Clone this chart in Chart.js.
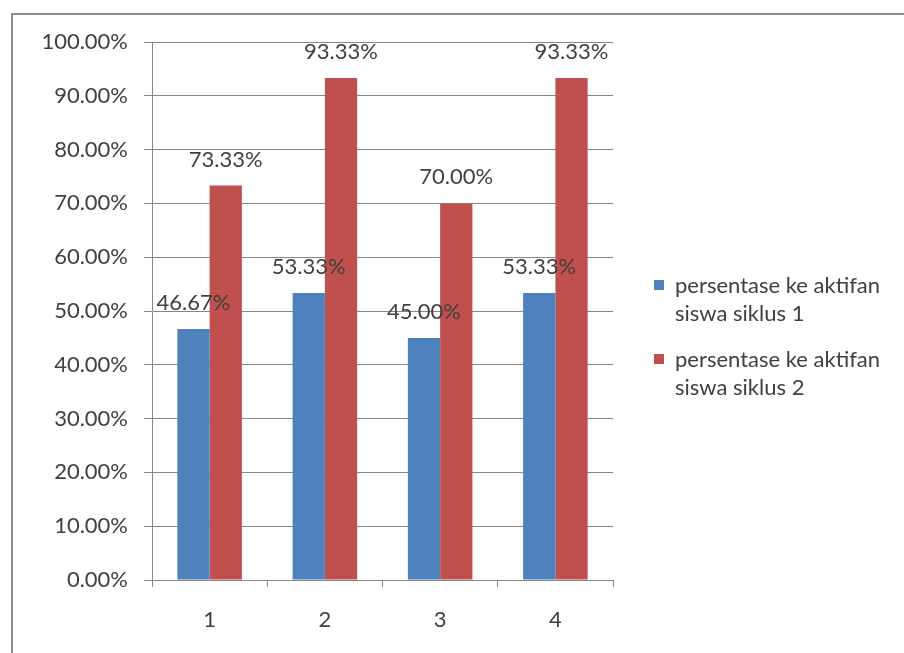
<!DOCTYPE html>
<html>
<head>
<meta charset="utf-8">
<script src="https://cdn.jsdelivr.net/npm/chart.js@4.4.1/dist/chart.umd.min.js"></script>
<style>
  html, body { margin: 0; padding: 0; background: #ffffff; }
  #wrap { position: relative; width: 904px; height: 653px; }
  #frame { position: absolute; left: 11px; top: 13px; right: 0; bottom: 0;
           border-left: 2px solid #8c8c8c; border-top: 2px solid #8c8c8c; }
  canvas { position: absolute; left: 0; top: 0; }
</style>
</head>
<body>
<div id="wrap">
  <div id="frame"></div>
  <canvas id="c" width="904" height="653"></canvas>
</div>
<script>
const categories = ['1', '2', '3', '4'];
const seriesNames = ['persentase ke aktifan siswa siklus 1', 'persentase ke aktifan siswa siklus 2'];
const siklus1 = [46.67, 53.33, 45.00, 53.33];
const siklus2 = [73.33, 93.33, 70.00, 93.33];
const yTicks = [0, 10, 20, 30, 40, 50, 60, 70, 80, 90, 100];

const FONT = 'Lato, "Open Sans", sans-serif';
const TEXT = '#404040';
const GRID = '#868686';

const dataLabels = {
  id: 'dataLabels',
  afterDatasetsDraw(chart) {
    const ctx = chart.ctx;
    ctx.save();
    ctx.font = '22px ' + FONT;
    ctx.fillStyle = TEXT;
    ctx.textAlign = 'center';
    ctx.textBaseline = 'middle';
    chart.data.datasets.forEach((ds, i) => {
      const meta = chart.getDatasetMeta(i);
      meta.data.forEach((bar, j) => {
        ctx.fillText(ds.data[j].toFixed(2) + '%', bar.x, bar.y - 26);
      });
    });
    ctx.restore();
  }
};

const sideLegend = {
  id: 'sideLegend',
  afterDraw(chart) {
    const ctx = chart.ctx;
    ctx.save();
    ctx.font = '22px ' + FONT;
    ctx.textBaseline = 'middle';
    ctx.textAlign = 'left';
    const boxX = 654, textX = 675, maxW = 225, lineH = 28;
    const starts = [286, 360];
    chart.data.datasets.forEach((ds, i) => {
      const words = ds.label.split(' ');
      const lines = [];
      let cur = '';
      words.forEach(w => {
        const test = cur ? cur + ' ' + w : w;
        if (ctx.measureText(test).width > maxW && cur) { lines.push(cur); cur = w; }
        else cur = test;
      });
      if (cur) lines.push(cur);
      const y0 = starts[i];
      ctx.fillStyle = ds.backgroundColor;
      ctx.fillRect(boxX, y0 - 6, 10, 10);
      ctx.fillStyle = TEXT;
      lines.forEach((ln, k) => ctx.fillText(ln, textX, y0 + k * lineH));
    });
    ctx.restore();
  }
};

new Chart(document.getElementById('c'), {
  type: 'bar',
  data: {
    labels: categories,
    datasets: [
      { label: seriesNames[0], data: siklus1, backgroundColor: '#4F81BD' },
      { label: seriesNames[1], data: siklus2, backgroundColor: '#C0504D' }
    ]
  },
  options: {
    responsive: false,
    animation: false,
    devicePixelRatio: 1,
    layout: { padding: { top: 42, right: 291, left: 0, bottom: 0 } },
    datasets: { bar: { categoryPercentage: 0.56, barPercentage: 1.0 } },
    plugins: { legend: { display: false }, tooltip: { enabled: false } },
    scales: {
      x: {
        afterFit: s => { s.height = 73; },
        grid: { offset: true, drawOnChartArea: false, drawTicks: true, tickLength: 7, color: GRID },
        border: { display: true, color: GRID },
        ticks: { color: TEXT, font: { family: FONT, size: 22 }, padding: 20 }
      },
      y: {
        min: 0, max: 100,
        afterFit: s => { s.width = 152; },
        afterBuildTicks: s => { s.ticks = yTicks.map(v => ({ value: v })); },
        grid: { color: GRID, drawTicks: true, tickLength: 8 },
        border: { display: true, color: GRID },
        ticks: { color: TEXT, font: { family: FONT, size: 22 }, padding: 16,
                 callback: v => Number(v).toFixed(2) + '%' }
      }
    }
  },
  plugins: [dataLabels, sideLegend]
});
</script>
</body>
</html>
